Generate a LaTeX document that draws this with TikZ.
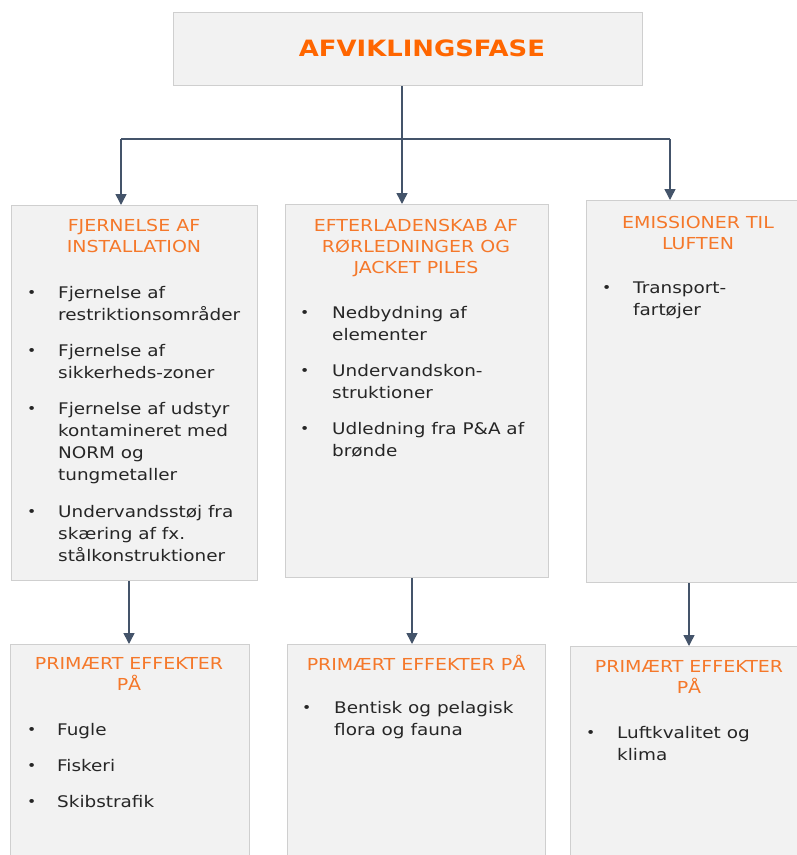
\documentclass[tikz,border=0pt]{standalone}
\usepackage{fontspec}
\setmainfont{DejaVu Sans}[FakeStretch=1.15]
\usetikzlibrary{arrows.meta}
\definecolor{boxfill}{HTML}{F2F2F2}
\definecolor{boxline}{HTML}{CFCFCF}
\definecolor{titleorange}{HTML}{FF6600}
\definecolor{headorange}{HTML}{F5782A}
\definecolor{bodytext}{HTML}{262626}
\definecolor{arrowcol}{HTML}{44546A}
\newcommand{\headtxt}[1]{\begin{tabular}[t]{@{}c@{}}#1\end{tabular}}
\newcommand{\bulletdot}{\raisebox{0.06em}{\scalebox{0.85}{•}}}

\begin{document}
\begin{tikzpicture}[x=1pt, y=-1pt,
		box/.style={draw=boxline, fill=boxfill, line width=1.2pt, anchor=north west, inner sep=0},
		head/.style={anchor=base, inner sep=0, text=headorange, font=\fontsize{16.5}{21}\selectfont},
		list/.style={anchor=base west, inner sep=0, text=bodytext, font=\fontsize{16}{22}\selectfont},
		link/.style={draw=arrowcol, line width=1.5pt},
		arr/.style={link, -{Triangle[width=11pt, length=11pt]}}]
		\clip (0, 0) rectangle (797, 855);

		% top box
		\node[box, minimum width=469pt, minimum height=73pt] (top) at (173, 12) {};
		\node[anchor=base, inner sep=0, text=titleorange, font=\fontsize{22.5}{26}\selectfont\bfseries] (title) at (422, 56) {AFVIKLINGSFASE};

		% activity boxes
		\node[box, minimum width=246pt, minimum height=375pt] (inst) at (11, 205) {};
		\node[box, minimum width=263pt, minimum height=373pt] (pipe) at (285, 204) {};
		\node[box, minimum width=230pt, minimum height=382pt] (emis) at (586, 200) {};

		% effect boxes
		\node[box, minimum width=239pt, minimum height=250pt] (eff1) at (10, 644) {};
		\node[box, minimum width=258pt, minimum height=250pt] (eff2) at (287, 644) {};
		\node[box, minimum width=240pt, minimum height=250pt] (eff3) at (570, 646) {};

		% connectors
		\coordinate (jl) at (121, 139);
		\coordinate (jm) at (402, 139);
		\coordinate (jr) at (670, 139);
		\draw[link] (jm |- top.south) -- (jm);
		\draw[link] (jl) -- (jr);
		\foreach \j/\b in {jl/inst, jm/pipe, jr/emis} {
			\draw[arr] (\j) -- (\j |- \b.north);
		}
		\foreach \x/\a/\b in {129/inst/eff1, 412/pipe/eff2, 689/emis/eff3} {
			\draw[arr] (\a.south -| \x,0) -- (\b.north -| \x,0);
		}

		% headings
		\node[head] (hinst) at (134, 231) {\headtxt{FJERNELSE AF\\INSTALLATION}};
		\node[head] (hpipe) at (416, 231) {\headtxt{EFTERLADENSKAB AF\\RØRLEDNINGER OG\\JACKET PILES}};
		\node[head] (hemis) at (698, 228) {\headtxt{EMISSIONER TIL\\LUFTEN}};
		\node[head] (heff1) at (129, 669) {\headtxt{PRIMÆRT EFFEKTER\\PÅ}};
		\node[head] (heff2) at (416, 670) {\headtxt{PRIMÆRT EFFEKTER PÅ}};
		\node[head] (heff3) at (689, 672) {\headtxt{PRIMÆRT EFFEKTER\\PÅ}};

		% bullet lists
		\node[list] (linst) at (27, 298) {\begin{tabular}[t]{@{}p{31pt}@{}l@{}}
			\bulletdot & Fjernelse af\\ & restriktionsområder\\[14pt]
			\bulletdot & Fjernelse af\\ & sikkerheds-zoner\\[14pt]
			\bulletdot & Fjernelse af udstyr\\ & kontamineret med\\ & NORM og\\ & tungmetaller\\[15pt]
			\bulletdot & Undervandsstøj fra\\ & skæring af fx.\\ & stålkonstruktioner
		\end{tabular}};
		\node[list] (lpipe) at (300, 318) {\begin{tabular}[t]{@{}p{32pt}@{}l@{}}
			\bulletdot & Nedbydning af\\ & elementer\\[14pt]
			\bulletdot & Undervandskon-\\ & struktioner\\[14pt]
			\bulletdot & Udledning fra P\&A af\\ & brønde
		\end{tabular}};
		\node[list] (lemis) at (602, 293) {\begin{tabular}[t]{@{}p{31pt}@{}l@{}}
			\bulletdot & Transport-\\ & fartøjer
		\end{tabular}};
		\node[list] (leff1) at (27, 735) {\begin{tabular}[t]{@{}p{30pt}@{}l@{}}
			\bulletdot & Fugle\\[14pt]
			\bulletdot & Fiskeri\\[14pt]
			\bulletdot & Skibstrafik
		\end{tabular}};
		\node[list] (leff2) at (302, 713) {\begin{tabular}[t]{@{}p{32pt}@{}l@{}}
			\bulletdot & Bentisk og pelagisk\\ & flora og fauna
		\end{tabular}};
		\node[list] (leff3) at (586, 738) {\begin{tabular}[t]{@{}p{31pt}@{}l@{}}
			\bulletdot & Luftkvalitet og\\ & klima
		\end{tabular}};
	\end{tikzpicture}
\end{document}
